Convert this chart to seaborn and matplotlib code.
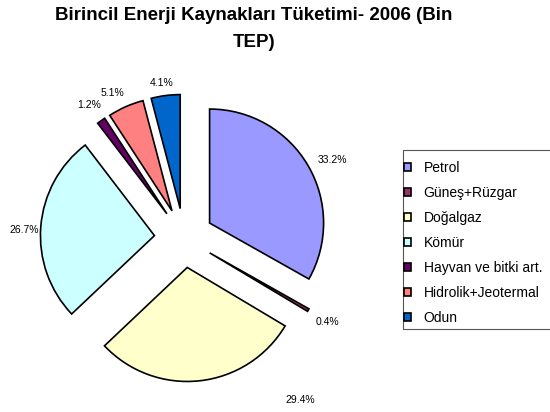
import matplotlib
matplotlib.use('Agg')
import matplotlib.pyplot as plt
from matplotlib.patches import Rectangle
import seaborn as sns

# data
labels = ['Petrol', 'Güneş+Rüzgar', 'Doğalgaz', 'Kömür',
          'Hayvan ve bitki art.', 'Hidrolik+Jeotermal', 'Odun']
shares = [33.2, 0.4, 29.4, 26.7, 1.2, 5.1, 4.1]
colors = ['#9999FF', '#993366', '#FFFFCC', '#CCFFFF',
          '#660066', '#FF8080', '#0066CC']

# label positions (data units, pie radius = 1)
label_xy = [(1.30, 0.68), (1.26, -0.74), (1.02, -1.42), (-1.40, 0.07),
            (-0.83, 1.17), (-0.63, 1.27), (-0.20, 1.36)]


def main():
    sns.set_theme(style='white')
    plt.rcParams['font.family'] = ['Liberation Sans', 'DejaVu Sans']

    W, H = 550, 412
    fig = plt.figure(figsize=(W / 100, H / 100), dpi=100)
    fig.patch.set_facecolor('white')

    # pie centre at (184, 238) px, radius 114 px
    r_px = 114
    cx, cy = 184, 238
    left, right, top, bottom = 0, 368, 70, 412
    ax = fig.add_axes([left / W, 1 - bottom / H,
                       (right - left) / W, (bottom - top) / H])

    wedges, _ = ax.pie(shares, colors=colors, startangle=90,
                       counterclock=False, explode=[0.26] * len(shares),
                       wedgeprops=dict(edgecolor='black', linewidth=1.2))
    ax.set_aspect('auto')
    ax.set_xlim((left - cx) / r_px, (right - cx) / r_px)
    ax.set_ylim((cy - bottom) / r_px, (cy - top) / r_px)
    ax.axis('off')

    for v, (x, y) in zip(shares, label_xy):
        ax.text(x, y, '{:.1f}%'.format(v), ha='center', va='center',
                fontsize=7.5, color='black')

    fig.text(254 / W, 1 - 7 / H,
             'Birincil Enerji Kaynakları Tüketimi- 2006 (Bin\nTEP)',
             ha='center', va='top', fontsize=13.5, fontweight='bold',
             linespacing=1.8, color='black')

    fig.legend(wedges, labels, loc='upper left',
               bbox_to_anchor=(404 / W, 1 - 161 / H),
               bbox_transform=fig.transFigure,
               fontsize=10, frameon=False, labelcolor='black',
               borderaxespad=0, borderpad=0, labelspacing=0.79,
               handlelength=0.52, handleheight=0.52,
               handletextpad=0.9)
    # legend frame (runs off the right edge as in the original)
    fig.patches.append(Rectangle((403 / W, 1 - 329 / H), 160 / W, 179 / H,
                                 transform=fig.transFigure, fill=False,
                                 edgecolor='#555555', linewidth=0.8))

    fig.savefig('out.png', dpi=100, facecolor='white')


if __name__ == '__main__':
    main()
